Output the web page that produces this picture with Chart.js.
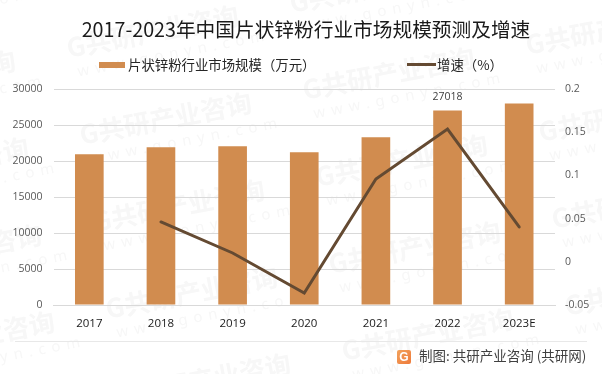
<!DOCTYPE html>
<html>
<head>
<meta charset="utf-8">
<script src="https://cdn.jsdelivr.net/npm/chart.js@4"></script>
<style>
html, body { margin: 0; padding: 0; background: #fff; overflow: hidden; }
#wrap { position: relative; width: 602px; height: 374px; }
#wrap div { position: absolute; white-space: nowrap; }
canvas { position: absolute; left: 0; top: 0; }
.title { left: 0; width: 612px; top: 14px; text-align: center; font: 19.7px/30px "Noto Sans CJK SC"; color: #1a1a1a; }
.leg { top: 55px; font: 13.4px/18px "Noto Sans CJK SC"; color: #262626; }
.rule { left: 15px; top: 341px; width: 572px; height: 1px; background: #e8e8e8; }
.source { left: 419px; top: 346px; font: 13.5px/19px "Noto Sans CJK SC"; color: #404040; }
.logo { left: 397px; top: 350px; width: 14px; height: 14px; background: linear-gradient(135deg, #f2a25c, #ee7a3a); border-radius: 2px; color: #fff; font: bold 12px/14px "Liberation Sans"; text-align: center; }
</style>
</head>
<body>
<div id="wrap">
  <canvas id="c" width="602" height="374"></canvas>
  <div class="title">2017-2023年中国片状锌粉行业市场规模预测及增速</div>
  <div style="left:99px;top:62px;width:26px;height:6px;background:#d18c4f"></div>
  <div class="leg" style="left:128px">片状锌粉行业市场规模（万元）</div>
  <div style="left:407px;top:63px;width:29px;height:3px;background:#644a32"></div>
  <div class="leg" style="left:437px">增速（%）</div>
  <div class="rule"></div>
  <div class="logo">G</div>
  <div class="source">制图: 共研产业咨询 (共研网)</div>
</div>
<script>
const categories = ['2017', '2018', '2019', '2020', '2021', '2022', '2023E'];
const marketSize = [20950, 21900, 22050, 21200, 23300, 27018, 28000];
const growth = [null, 0.0461, 0.0102, -0.0361, 0.0958, 0.1537, 0.0403];
const barLabels = [null, null, null, null, null, '27018', null];

// 水印 + 单个数据标签
const extras = {
    id: 'extras',
    beforeDraw(chart) {
        const ctx = chart.ctx;
        ctx.save();
        ctx.fillStyle = '#f7f7f7';
        ctx.textBaseline = 'middle';
        for (let c = -1; c <= 2; c++) {
            for (let r = -1; r <= 4; r++) {
                ctx.save();
                ctx.translate(67 + 13 * r + 236 * c, 48 + 87 * r + 42 * c);
                ctx.rotate(-0.19);
                ctx.font = 'bold 26px "Noto Sans CJK SC"';
                ctx.fillText('G共研产业咨询', 0, 0);
                ctx.font = '15px "Noto Sans"';
                ctx.letterSpacing = '6px';
                ctx.fillText('www.gonyn.com', 6, 26);
                ctx.restore();
            }
        }
        ctx.restore();
    },
    afterDatasetsDraw(chart) {
        const meta = chart.getDatasetMeta(0);
        const ctx = chart.ctx;
        ctx.save();
        ctx.font = '10.5px "Open Sans"';
        ctx.fillStyle = '#404040';
        ctx.textAlign = 'center';
        barLabels.forEach((t, i) => {
            if (t) ctx.fillText(t, meta.data[i].x, meta.data[i].y - 10);
        });
        ctx.restore();
    }
};

new Chart(document.getElementById('c'), {
    data: {
        labels: categories,
        datasets: [
            { type: 'bar', label: '片状锌粉行业市场规模（万元）', data: marketSize, yAxisID: 'y', backgroundColor: '#d18c4f', barPercentage: 0.4, categoryPercentage: 1, order: 1 },
            { type: 'line', label: '增速（%）', data: growth, yAxisID: 'y1', borderColor: '#644a32', borderWidth: 3, borderCapStyle: 'round', pointRadius: 0, tension: 0, order: 0 }
        ]
    },
    plugins: [extras],
    options: {
        responsive: false,
        animation: false,
        layout: { padding: { top: 89, left: 0, right: 0, bottom: 29 } },
        plugins: { tooltip: { enabled: false }, legend: { display: false } },
        scales: {
            x: {
                afterFit: s => { s.height = 40; },
                grid: { display: false },
                border: { color: '#d9d9d9' },
                ticks: { padding: 4, maxRotation: 0, color: '#1a1a1a', font: { size: 11.5, family: '"Open Sans"' } }
            },
            y: {
                min: 0, max: 30000, position: 'left',
                afterFit: s => { s.width = 53.5; },
                ticks: { stepSize: 5000, padding: 11, color: '#595959', font: { size: 10.5, family: '"Open Sans"' }, callback: v => String(v) },
                grid: { color: '#d9d9d9', drawTicks: false },
                border: { display: false }
            },
            y1: {
                min: -0.05, max: 0.2, position: 'right',
                afterFit: s => { s.width = 47; },
                ticks: { stepSize: 0.05, padding: 10, color: '#595959', font: { size: 10.5, family: '"Open Sans"' }, callback: v => String(+v.toFixed(2)) },
                grid: { display: false, drawTicks: false },
                border: { display: false }
            }
        }
    }
});
</script>
</body>
</html>
